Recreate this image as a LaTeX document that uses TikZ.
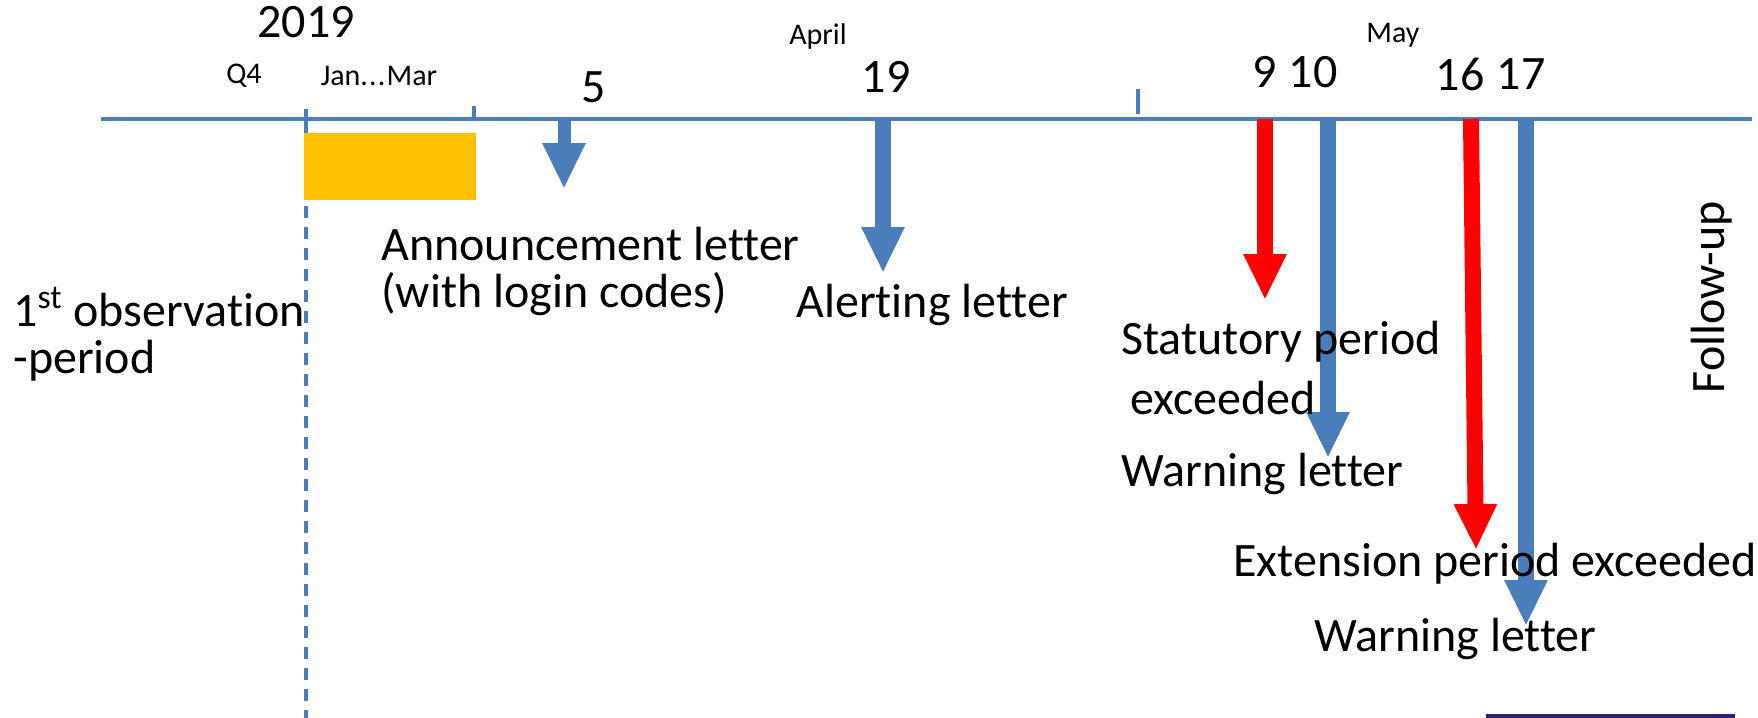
\documentclass[tikz,border=0pt]{standalone}
\usepackage{fontspec}
\setmainfont{Carlito}[Ligatures=NoCommon]
\usepackage{tikz}
\usetikzlibrary{arrows.meta}
\definecolor{lineblue}{RGB}{74,126,187}
\definecolor{boxorange}{RGB}{255,192,0}
\definecolor{inkblue}{RGB}{46,32,122}

\tikzset{
  event/.style={line width=8pt, -{Triangle[length=23pt, width=20pt]}},
  big/.style={font=\fontsize{24}{28}\selectfont, inner sep=0pt},
  small/.style={font=\fontsize{15}{18}\selectfont, inner sep=0pt},
}

\begin{document}
\begin{tikzpicture}[x=0.5pt, y=-0.5pt]
    \useasboundingbox (0,0) rectangle (1758,718);
    % time axis and ticks
    \coordinate (start) at (101,119); \coordinate (stop) at (1752,119);
    \draw[lineblue, line width=1.75pt] (start) -- (stop);
    \draw[lineblue, line width=1.75pt] (306,109) -- (306,122);
    \draw[lineblue, line width=1.75pt] (474,106) -- (474,121);
    \draw[lineblue, line width=1.75pt] (1138,89) -- (1138,114);
    \draw[lineblue, line width=1.6pt, dash pattern=on 6pt off 4.5pt] (306,122) -- (306,718);
    \fill[boxorange] (304,133) rectangle (476,200);
    % dates
    \node[big] (y2019) at (306,22) {2019};
    \node[small] (q4) at (244,76) {Q4};
    \node[small] (janmar) at (379,76) {Jan.\kern0.6pt.\kern0.6pt.\kern0.6pt Mar};
    \node[small] (april) at (818,37) {April};
    \node[small] (may) at (1393,35) {May};
    \node[big] (n5) at (594,87) {5};
    \node[big] (n19) at (886,77) {19};
    \node[big] (n9) at (1265,72) {9};
    \node[big] (n10) at (1313,72) {10};
    \node[big] (n16) at (1460,74) {16};
    \node[big] (n17) at (1521,74) {17};
    % letters and deadlines
    \coordinate (d5) at (564,119);   \coordinate (t5) at (564,189);
    \coordinate (d19) at (883,119);  \coordinate (t19) at (883,273);
    \coordinate (d9) at (1265,119);  \coordinate (t9) at (1265,300);
    \coordinate (d10) at (1328,119); \coordinate (t10) at (1328,458);
    \coordinate (d16) at (1471,119); \coordinate (t16) at (1476,550);
    \coordinate (d17) at (1526,119); \coordinate (t17) at (1526,626);
    \draw[event, lineblue, line width=6.5pt] (d5) -- (t5);
    \draw[event, lineblue] (d19) -- (t19);
    \draw[event, red] (d9) -- (t9);
    \draw[event, lineblue] (d10) -- (t10);
    \draw[event, red] (d16) -- (t16);
    \draw[event, lineblue] (d17) -- (t17);
    \node[big, anchor=west] (announce) at (381,244) {Announcement letter};
    \node[big, anchor=west] (codes) at (381,294) {(with login codes)};
    \node[big, anchor=west] (alert) at (796,305) {Alerting letter};
    \node[big, anchor=west] (obs) at (13,307) {1\textsuperscript{st} observation};
    \node[big, anchor=west] (period) at (13,361) {-period};
    \node[big, anchor=west] (statutory) at (1121,342) {Statutory period};
    \node[big, anchor=west] (exceeded) at (1130,398) {exceeded};
    \node[big, anchor=west] (warn1) at (1121,474) {Warning letter};
    \node[big, anchor=west] (extension) at (1233,564) {Extension period exceeded};
    \node[big, anchor=west] (warn2) at (1314,639) {Warning letter};
    \node[big, rotate=90] (follow) at (1712,297) {Follow-up};
    \draw[inkblue, line width=1.8pt] (1486,716) -- (1735,716);
\end{tikzpicture}
\end{document}
